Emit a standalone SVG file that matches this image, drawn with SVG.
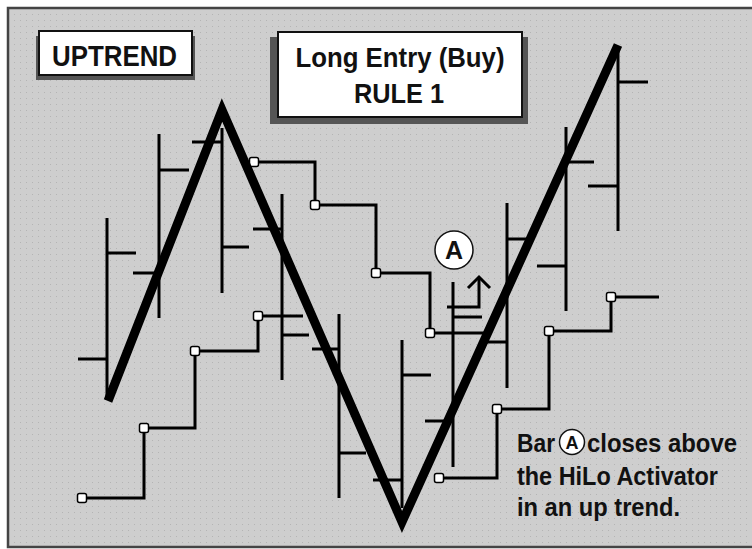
<svg xmlns="http://www.w3.org/2000/svg" width="752" height="549" viewBox="0 0 752 549">
<defs>
<pattern id="dots" width="6" height="6" patternUnits="userSpaceOnUse">
<rect width="6" height="6" fill="#cecece"/>
<rect x="2" y="2" width="1" height="1" fill="#b4b4b4"/>
</pattern>
<style>
.bar{stroke:#000;stroke-width:3;fill:none;stroke-linecap:butt}
.hilo{stroke:#000;stroke-width:3;fill:none;stroke-linejoin:miter}
.mk{fill:#fff;stroke:#000;stroke-width:1.5}
.zig{stroke:#000;stroke-width:9;fill:none;stroke-linejoin:miter;stroke-linecap:butt}
.lbl{font-family:"Liberation Sans",Arial,sans-serif;font-weight:bold;fill:#111}
.box{fill:#fff;stroke:#111;stroke-width:2}
.shadow{fill:#555}
</style>
</defs>
<rect width="752" height="549" fill="#fff"/>
<rect x="8" y="8" width="760" height="539" fill="url(#dots)" stroke="#444" stroke-width="2.5"/>

<g id="uptrend">
<rect class="shadow" x="36" y="36" width="159" height="44"/>
<rect class="box" x="39" y="31" width="153" height="44"/>
<text class="lbl" x="52" y="66" font-size="30" textLength="125" lengthAdjust="spacingAndGlyphs">UPTREND</text>
</g>

<g id="title">
<rect class="shadow" x="270" y="37" width="258" height="87"/>
<rect class="box" x="278" y="32" width="244" height="85"/>
<text class="lbl" x="400" y="67" font-size="28" text-anchor="middle" textLength="209" lengthAdjust="spacingAndGlyphs">Long Entry (Buy)</text>
<text class="lbl" x="399" y="103" font-size="28" text-anchor="middle" textLength="90" lengthAdjust="spacingAndGlyphs">RULE 1</text>
</g>

<g id="bars">
<path class="bar" d="M107 218V400M78 359H107M107 253H136"/>
<path class="bar" d="M159 134V318M133 273H159M159 170H189"/>
<path class="bar" d="M222 128V293M192 142H222M222 247H249"/>
<path class="bar" d="M282 194V380M253 229H282M282 335H309"/>
<path class="bar" d="M339 314V498M312 349H339M339 453H366"/>
<path class="bar" d="M402 340V508M373 480H402M402 375H431"/>
<path class="bar" d="M453 282V467M425 421H453M453 317H482"/>
<path class="bar" d="M507 203V388M482 342H507M507 239H527"/>
<path class="bar" d="M566 127V311M537 266H566M566 162H594"/>
<path class="bar" d="M618 50V231M588 186H618M618 82H648"/>
</g>

<g id="arrow">
<polyline class="bar" points="447,307 479,307 479,277"/>
<polyline class="bar" points="468,288 479,277 490,288"/>
</g>

<g id="hilo-upper">
<polyline class="hilo" points="254,162 315,162 315,205 376,205 376,273 430,273 430,333 490,333"/>
<rect class="mk" x="249.5" y="157.5" width="9" height="9" rx="2"/>
<rect class="mk" x="310.5" y="200.5" width="9" height="9" rx="2"/>
<rect class="mk" x="371.5" y="268.5" width="9" height="9" rx="2"/>
<rect class="mk" x="425.5" y="328.5" width="9" height="9" rx="2"/>
</g>

<g id="hilo-lower">
<polyline class="hilo" points="82,498 144,498 144,428 195,428 195,351 258,351 258,316 303,316"/>
<polyline class="hilo" points="439,478 497,478 497,409 549,409 549,331 611,331 611,297 659,297"/>
<rect class="mk" x="77.5" y="493.5" width="9" height="9" rx="2"/>
<rect class="mk" x="139.5" y="423.5" width="9" height="9" rx="2"/>
<rect class="mk" x="190.5" y="346.5" width="9" height="9" rx="2"/>
<rect class="mk" x="253.5" y="311.5" width="9" height="9" rx="2"/>
<rect class="mk" x="434.5" y="473.5" width="9" height="9" rx="2"/>
<rect class="mk" x="492.5" y="404.5" width="9" height="9" rx="2"/>
<rect class="mk" x="544.5" y="326.5" width="9" height="9" rx="2"/>
<rect class="mk" x="606.5" y="292.5" width="9" height="9" rx="2"/>
</g>

<g id="trend">
<polyline class="zig" points="108,401 222,110 402,522 618,45"/>
</g>

<g id="markA">
<circle cx="454" cy="250" r="19" fill="#fff" stroke="#111" stroke-width="1.5"/>
<text class="lbl" x="454" y="259" font-size="25" text-anchor="middle">A</text>
</g>

<g id="note">
<text class="lbl" x="517" y="452" font-size="26" textLength="38" lengthAdjust="spacingAndGlyphs">Bar</text>
<circle cx="572" cy="442" r="12.5" fill="#fff" stroke="#111" stroke-width="1.5"/>
<text class="lbl" x="572" y="449" font-size="18" text-anchor="middle">A</text>
<text class="lbl" x="587" y="452" font-size="26" textLength="150" lengthAdjust="spacingAndGlyphs">closes above</text>
<text class="lbl" x="517" y="485" font-size="26" textLength="201" lengthAdjust="spacingAndGlyphs">the HiLo Activator</text>
<text class="lbl" x="517" y="516" font-size="26" textLength="163" lengthAdjust="spacingAndGlyphs">in an up trend.</text>
</g>
</svg>
